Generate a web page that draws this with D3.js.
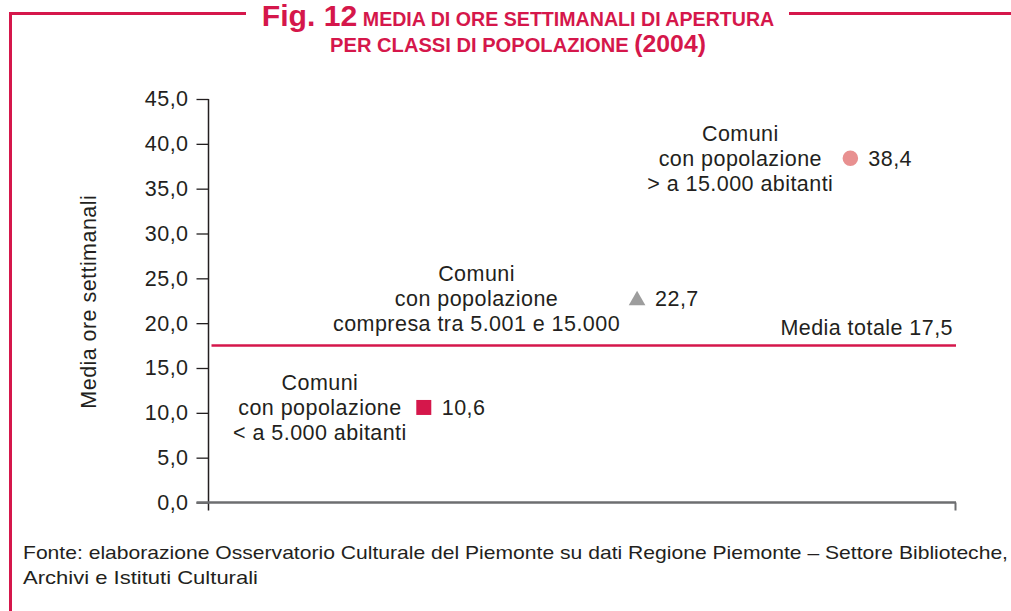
<!DOCTYPE html>
<html>
<head>
<meta charset="utf-8">
<script src="https://cdn.jsdelivr.net/npm/d3@7"></script>
<style>
  html, body { margin: 0; padding: 0; background: #fff; }
  svg { display: block; }
  text { font-family: "Liberation Sans", Arial, Helvetica, sans-serif; fill: #231f20; }
  .lbl { font-size: 21.5px; letter-spacing: 0.45px; }
</style>
</head>
<body>
<svg id="chart" width="1011" height="611"></svg>
<script>
// --- data ---------------------------------------------------------------
const categoryLines = [
  ["Comuni", "con popolazione", "< a 5.000 abitanti"],
  ["Comuni", "con popolazione", "compresa tra 5.001 e 15.000"],
  ["Comuni", "con popolazione", "> a 15.000 abitanti"]
];
const categoryPos = [1, 2, 3];
const values = [10.6, 22.7, 38.4];
const meanTotal = 17.5;
const meanLabel = "Media totale";
const yTicks = [0, 5, 10, 15, 20, 25, 30, 35, 40, 45];
const yTitle = "Media ore settimanali";
const titleLines = [
  [["Fig. 12", "big"], [" MEDIA DI ORE SETTIMANALI DI APERTURA", "small"]],
  [["PER CLASSI DI POPOLAZIONE ", "small"], ["(2004)", "mid"]]
];
const sourceLines = [
  "Fonte: elaborazione Osservatorio Culturale del Piemonte su dati Regione Piemonte \u2013 Settore Biblioteche,",
  "Archivi e Istituti Culturali"
];

// --- styles -------------------------------------------------------------
const RED = "#d5174b";
const markerStyles = [
  { type: d3.symbolSquare, size: 225, fill: "#d5174b" },
  { type: d3.symbolTriangle, size: 120, fill: "#9d9d9d" },
  { type: d3.symbolCircle, size: 190, fill: "#e89090" }
];
const it = d3.formatLocale({ decimal: ",", thousands: ".", grouping: [3], currency: ["€", ""] });
const fmt = it.format(".1f");

const svg = d3.select("#chart");

// frame around the figure
const frame = svg.append("g").attr("stroke", RED).attr("stroke-width", 3).attr("fill", "none");
frame.append("path").attr("d", "M10.5,611 L10.5,13.5 L246,13.5");
frame.append("path").attr("d", "M789,13.5 L1011,13.5");

// title
const titleSizes = { big: 30, small: 19.5, mid: 24 };
const titleWidths = [513, 376];
const titleBase = [26, 52];
titleLines.forEach((parts, i) => {
  const t = svg.append("text")
    .attr("x", 518).attr("y", titleBase[i])
    .attr("text-anchor", "middle")
    .style("font-family", "'Liberation Sans Narrow', 'Liberation Sans', Arial, sans-serif")
    .style("font-weight", "bold")
    .style("fill", RED);
  parts.forEach(([s, k]) => t.append("tspan").attr("font-size", titleSizes[k]).text(s));
  const w = t.node().getBBox().width;
  const k = titleWidths[i] / w;
  t.attr("transform", `translate(518,0) scale(${k},1) translate(-518,0)`);
});

// scales
const x = d3.scaleLinear().domain([0, 3.5]).range([208.5, 955]);
const y = d3.scaleLinear().domain([0, 45]).range([502.5, 99]);

// y axis
const yAxis = svg.append("g")
  .attr("transform", `translate(${x(0)},0)`)
  .call(d3.axisLeft(y).tickValues(yTicks).tickFormat(fmt).tickSize(12).tickPadding(8).tickSizeOuter(0));
yAxis.select(".domain").remove();
yAxis.selectAll(".tick line").attr("stroke", "#231f20").attr("stroke-width", 1.3);
yAxis.selectAll(".tick text").attr("class", "lbl").attr("font-size", null).style("fill", "#231f20")
  .style("font-family", "'Liberation Sans', Arial, sans-serif");
svg.append("line")
  .attr("x1", x(0)).attr("x2", x(0))
  .attr("y1", y(45)).attr("y2", y(0) + 8)
  .attr("stroke", "#231f20").attr("stroke-width", 1.5);

// x axis baseline with closing tick
const xAxis = svg.append("g")
  .attr("transform", `translate(0,${y(0)})`)
  .call(d3.axisBottom(x).tickValues([3.5]).tickFormat("").tickSize(8).tickSizeOuter(0));
xAxis.select(".domain").remove();
xAxis.selectAll(".tick line").attr("stroke", "#6d6e70").attr("stroke-width", 2);
svg.append("line")
  .attr("x1", x(0) - 12).attr("x2", x(3.5) + 1)
  .attr("y1", y(0)).attr("y2", y(0))
  .attr("stroke", "#6d6e70").attr("stroke-width", 2.5);

// y axis title
svg.append("text")
  .attr("class", "lbl")
  .attr("transform", `translate(96,${(y(0) + y(45)) / 2 + 1}) rotate(-90)`)
  .attr("text-anchor", "middle")
  .text(yTitle);

// mean line
svg.append("line")
  .attr("x1", x(0) + 3).attr("x2", x(3.5) + 1)
  .attr("y1", y(meanTotal)).attr("y2", y(meanTotal))
  .attr("stroke", RED).attr("stroke-width", 2.5);
svg.append("text")
  .attr("class", "lbl")
  .attr("x", x(3.5) - 2).attr("y", y(meanTotal) - 11)
  .attr("text-anchor", "end")
  .text(`${meanLabel} ${fmt(meanTotal)}`);

// markers, values and category labels
values.forEach((v, i) => {
  const cx = x(categoryPos[i]) + 2;
  const cy = y(v);
  const st = markerStyles[i];
  svg.append("path")
    .attr("transform", `translate(${cx},${cy + (i === 1 ? 1.5 : 0)})`)
    .attr("d", d3.symbol().type(st.type).size(st.size)())
    .attr("fill", st.fill);

  svg.append("text")
    .attr("class", "lbl")
    .attr("x", cx + 18).attr("y", cy + 7.5)
    .text(fmt(v));

  const g = svg.append("g");
  const lines = categoryLines[i].map((s, j) =>
    g.append("text")
      .attr("class", "lbl")
      .attr("y", cy + 7.5 + (j - 1) * 25)
      .attr("text-anchor", "middle")
      .text(s));
  const maxW = d3.max(lines, t => t.node().getComputedTextLength());
  const center = cx - 17 - maxW / 2;
  lines.forEach(t => t.attr("x", center));
});

// source note
const srcWidths = [985, 235];
sourceLines.forEach((s, i) => {
  svg.append("text")
    .attr("x", 23).attr("y", 559 + i * 25)
    .attr("font-size", 19)
    .attr("textLength", srcWidths[i])
    .attr("lengthAdjust", "spacingAndGlyphs")
    .text(s);
});
</script>
</body>
</html>
